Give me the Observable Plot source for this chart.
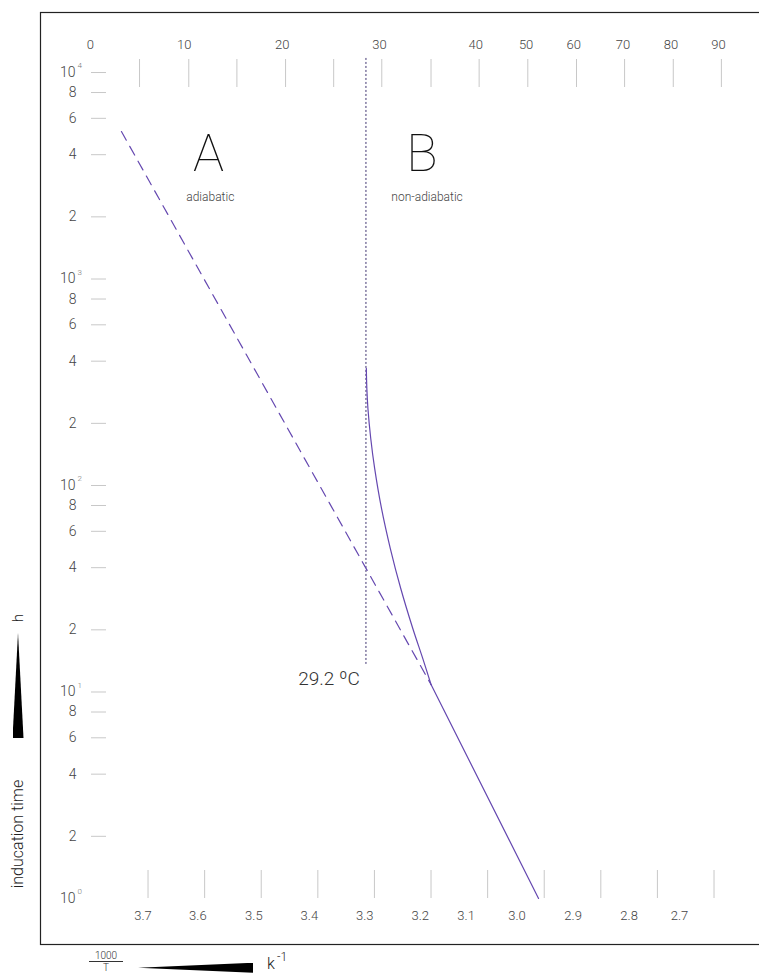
<!DOCTYPE html>
<html><head><meta charset="utf-8">
<script src="https://cdn.jsdelivr.net/npm/d3@7"></script>
<script src="https://cdn.jsdelivr.net/npm/@observablehq/plot@0.6"></script>
<style>
html,body{margin:0;padding:0;overflow:hidden;background:#fff;width:759px;height:973px;}
#wrap{position:relative;width:759px;height:973px;overflow:hidden;font-family:Roboto, sans-serif;font-weight:300;color:#222;}
#chart{position:absolute;left:0;top:0;width:800px;}
#chart svg{max-width:none !important;}
.abs{position:absolute;white-space:nowrap;}
.rot{transform:rotate(-90deg);text-align:center;}
</style></head><body>
<div id="wrap">
  <div id="chart"></div>
  <div class="abs rot" style="left:-82px;top:823px;width:200px;height:22px;line-height:22px;font-size:16px;">inducation time</div>
  <div class="abs rot" style="left:8px;top:608px;width:20px;height:20px;line-height:20px;font-size:15px;">h</div>
  <div class="abs" style="left:12.5px;top:633px;width:11px;height:105px;background:#000;clip-path:polygon(50% 0,100% 100%,0 100%);"></div>
  <div class="abs" style="left:89px;top:950px;width:34px;font-size:10px;line-height:11px;text-align:center;color:#333;">
    <div style="border-bottom:1px solid #333;">1000</div>
    <div>T</div>
  </div>
  <div class="abs" style="left:138px;top:962.7px;width:115px;height:10px;background:#000;clip-path:polygon(0 50%,100% 0,100% 100%);"></div>
  <div class="abs" style="left:267px;top:956px;font-size:16px;line-height:16px;color:#222;">k</div>
  <div class="abs" style="left:277px;top:951px;font-size:12px;line-height:12px;color:#222;">-1</div>
</div>
<script>
// ---- data ----
// x: 1000/T (K^-1), y: induction time (h, log scale)
const bottomTicks = [3.7, 3.6, 3.5, 3.4, 3.3, 3.2, 3.1, 3.0, 2.9, 2.8, 2.7];
const bottomLabels = ["3.7","3.6","3.5","3.4","3.3","3.2","3.1","3.0","2.9","2.8","2.7"];
const bottomLabelAt = [3.709, 3.612, 3.513, 3.415, 3.317, 3.219, 3.138, 3.048, 2.949, 2.850, 2.761];

const topTickAt = [3.715, 3.628, 3.543, 3.457, 3.372, 3.287, 3.200, 3.115, 3.029, 2.943, 2.858, 2.772, 2.687];
const topLabels = ["0","10","20","30","40","50","60","70","80","90"];
const topLabelAt = [3.802, 3.636, 3.463, 3.291, 3.121, 3.032, 2.948, 2.861, 2.776, 2.692];

const yDecades = [1, 10, 100, 1000, 10000];
const yDecadeExp = ["0", "1", "2", "3", "4"];
const yMinor = [2, 4, 6, 8, 20, 40, 60, 80, 200, 400, 600, 800, 2000, 4000, 6000, 8000];
const yMinorLabels = ["2","4","6","8","2","4","6","8","2","4","6","8","2","4","6","8"];
const yTickVals = [10, 10000, 100, 1000, ...yMinor];

// adiabatic extrapolation (dashed)
const adiabaticT = [3.747, 3.200];
const adiabaticH = [5180, 10.87];
// non-adiabatic curve (solid)
const curveT = [3.3143, 3.3134, 3.3115, 3.3065, 3.2996, 3.2875, 3.2719, 3.2535, 3.2322, 3.2145, 3.200];
const curveH = [369, 295, 236, 169, 121, 77.4, 49.5, 31.7, 20.3, 14.5, 10.87];
// common straight part (solid)
const lineT = [3.200, 3.010];
const lineH = [10.87, 1.0];

// transition
const transitionT = 3.315;
const transitionLabel = "29.2 ºC";
const dottedTopH = 11700;
const dottedBottomH = 13.6;
const transitionLabelH = 11.6;

const regionLetters = ["A", "B"];
const regionNames = ["adiabatic", "non-adiabatic"];
const regionLetterT = [3.593, 3.216];
const regionNameT = [3.590, 3.207];
const regionLetterH = 4000;
const regionNameH = 2480;

const purple = "#6548b0";

const chart = Plot.plot({
  width: 800, height: 973,
  marginLeft: 40, marginRight: 0, marginTop: 12, marginBottom: 29,
  x: {domain: [3.890, 2.5472], axis: null},
  y: {type: "log", domain: [0.5986, 19530], axis: null},
  style: {fontFamily: "Roboto, sans-serif", fontWeight: 300, color: "#333", background: "transparent", overflow: "visible", maxWidth: "none"},
  marks: [
    Plot.frame({stroke: "#222", strokeWidth: 1.2}),
    Plot.axisX({ticks: topTickAt, anchor: "top", tickSize: 28, dy: 74, stroke: "#c8c8c8", fill: "none", label: null}),
    Plot.axisX({ticks: bottomTicks, anchor: "bottom", tickSize: 28, dy: -74, stroke: "#c8c8c8", fill: "none", label: null}),
    Plot.axisY({ticks: yTickVals, anchor: "left", tickSize: 15, dx: 66, stroke: "#c8c8c8", fill: "none", label: null}),
    Plot.text(topLabels, {x: topLabelAt, text: topLabels, frameAnchor: "top", dy: 27, fontSize: 13, fill: "#444"}),
    Plot.text(bottomLabels, {x: bottomLabelAt, text: bottomLabels, frameAnchor: "bottom", dy: -25, fontSize: 13, fill: "#444"}),
    Plot.text(yMinor, {y: yMinor, text: yMinorLabels, frameAnchor: "left", dx: 36, textAnchor: "end", fontSize: 14, fill: "#444"}),
    Plot.text(yDecades, {y: yDecades, text: () => "10", frameAnchor: "left", dx: 35, textAnchor: "end", fontSize: 14, fill: "#444"}),
    Plot.text(yDecades, {y: yDecades, text: yDecadeExp, frameAnchor: "left", dx: 37, dy: -7, textAnchor: "start", fontSize: 8, fill: "#777"}),
    Plot.ruleX([transitionT], {x: d => d, y1: dottedTopH, y2: dottedBottomH, stroke: "#3f3470", strokeDasharray: "2,2", strokeWidth: 1}),
    Plot.line(adiabaticT, {x: adiabaticT, y: adiabaticH, stroke: purple, strokeWidth: 1.2, strokeDasharray: "10,7"}),
    Plot.line(curveT, {x: curveT, y: curveH, stroke: purple, strokeWidth: 1.2, curve: "catmull-rom"}),
    Plot.line(lineT, {x: lineT, y: lineH, stroke: purple, strokeWidth: 1.2}),
    Plot.text([transitionLabel], {x: [transitionT], y: [transitionLabelH], text: [transitionLabel], dx: -6, textAnchor: "end", fontSize: 19, fill: "#333"}),
    Plot.text(regionLetters, {x: regionLetterT, y: regionLetters.map(() => regionLetterH), text: regionLetters, fontSize: 52, fontWeight: 100, fill: "#111"}),
    Plot.text(regionNames, {x: regionNameT, y: regionNames.map(() => regionNameH), text: regionNames, fontSize: 12, fill: "#444"})
  ]
});
document.getElementById("chart").appendChild(chart);
</script>
</body></html>
